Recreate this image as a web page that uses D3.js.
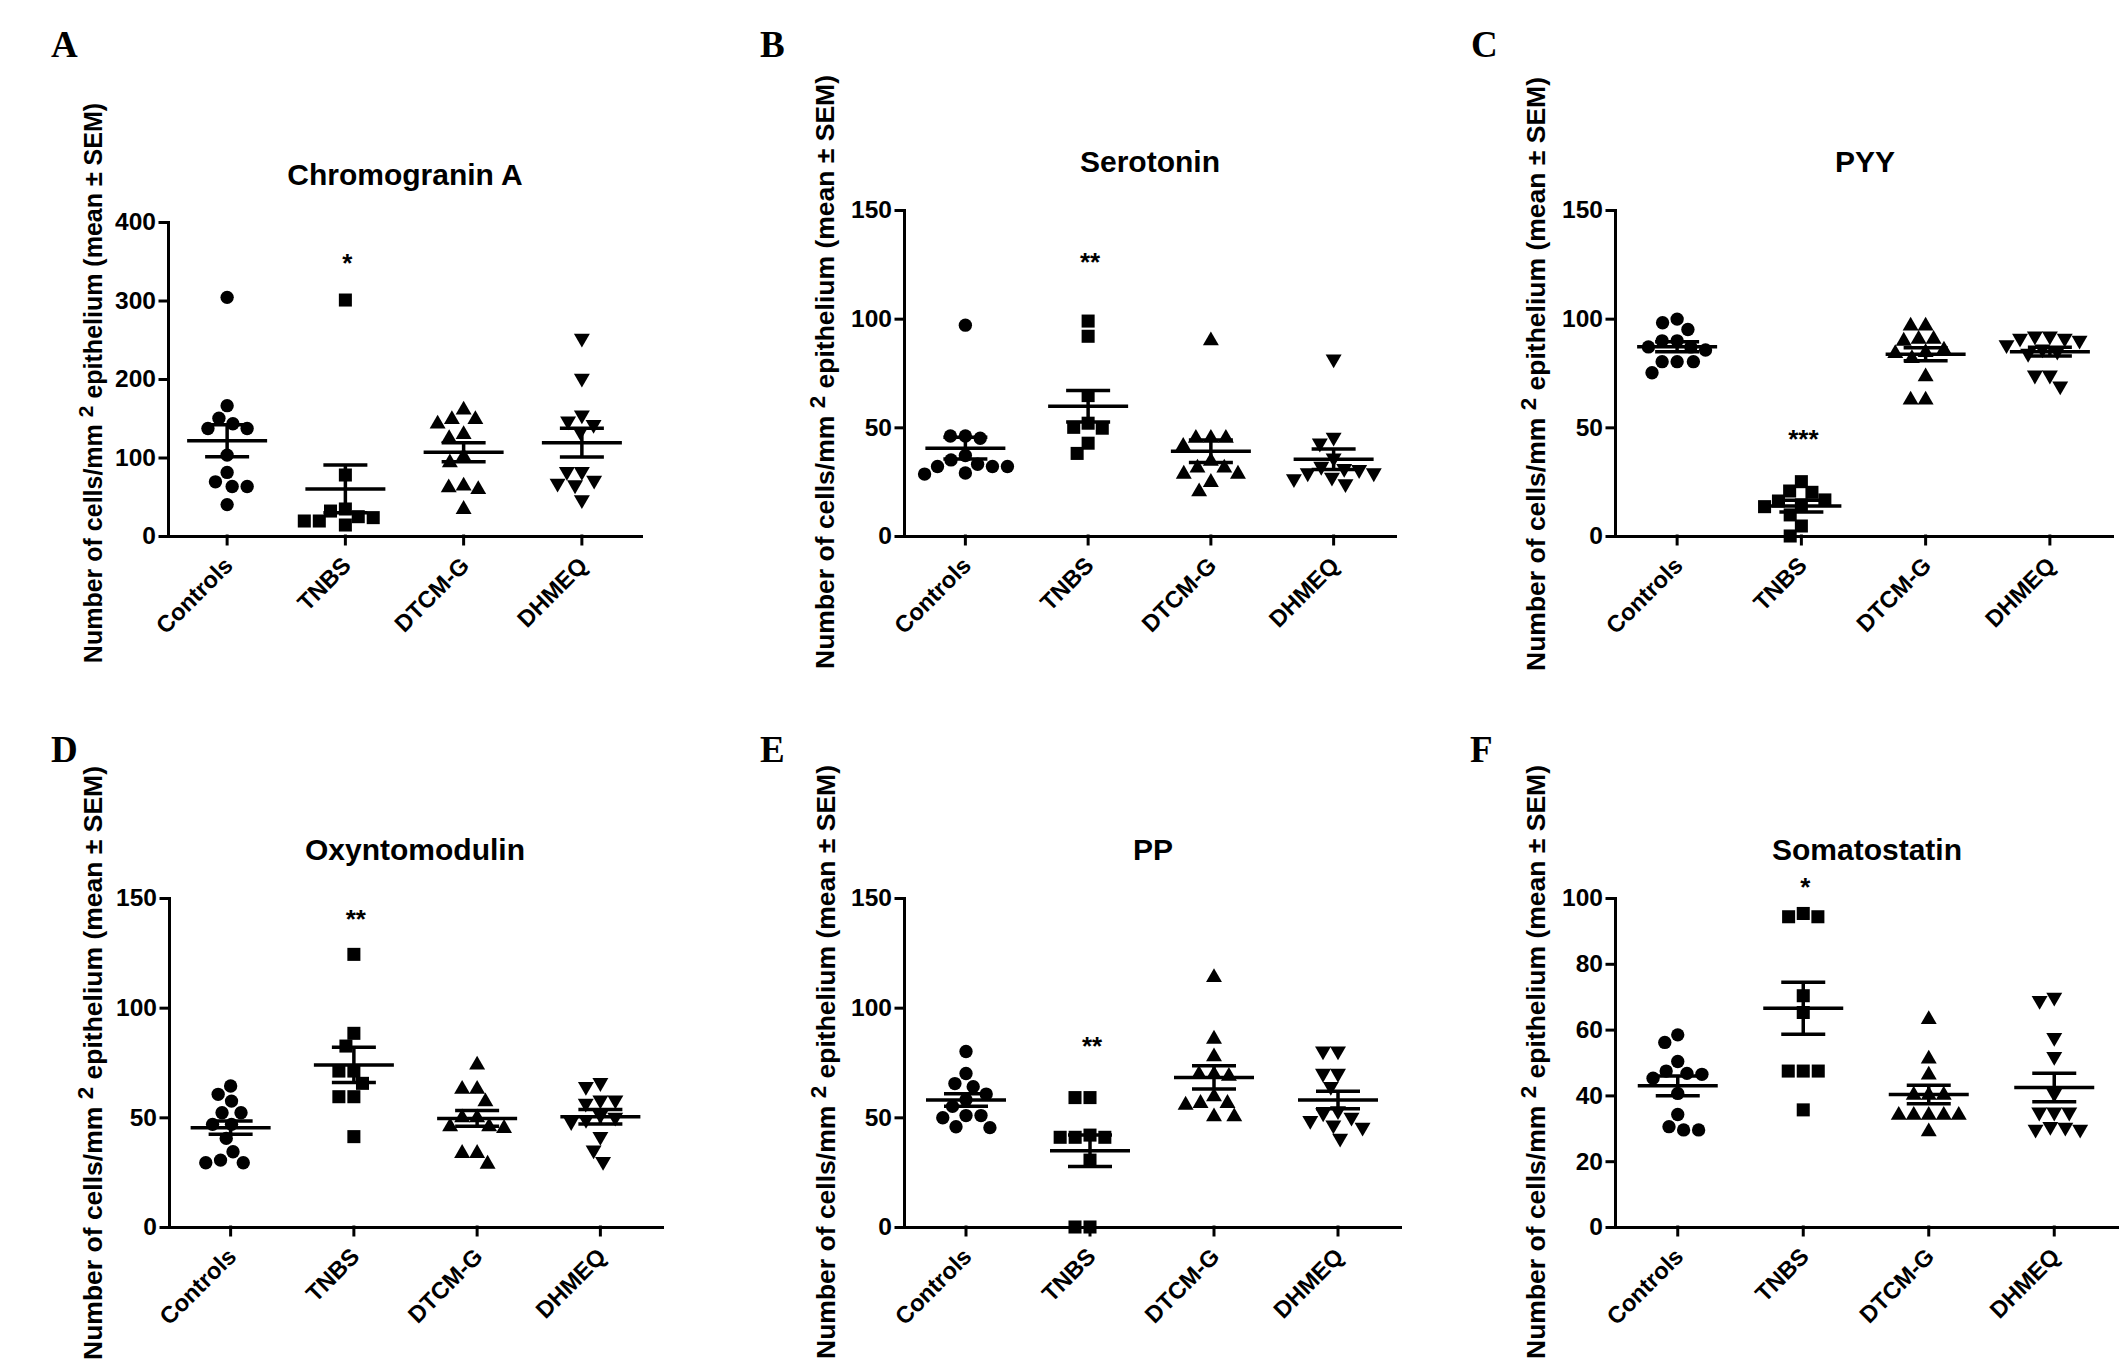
<!DOCTYPE html>
<html>
<head>
<meta charset="utf-8">
<script src="https://cdn.jsdelivr.net/npm/d3@7"></script>
<style>
  body { margin: 0; background: #fff; }
  svg { display: block; font-family: "Liberation Sans", Arial, sans-serif; }
</style>
</head>
<body>
<svg id="fig" width="2126" height="1368"></svg>
<script>
const groups = ["Controls", "TNBS", "DTCM-G", "DHMEQ"];

// cells/mm2 per animal, one inner array per group
const chromograninA = [
  [304, 166, 150, 143, 137, 137, 103, 81, 69, 63, 63, 40],
  [300.6, 77.7, 34.4, 31.8, 24.6, 23.4, 19.1, 19.1, 14],
  [160.5, 148.6, 148.6, 142.7, 129.5, 124.4, 101, 93.4, 63.7, 61.6, 59.4, 34],
  [251.8, 200.8, 154, 146.5, 142, 133, 82, 82, 71, 67, 65, 46]
];
const chromograninAMean = [121.4, 60, 106.6, 118.9];
const chromograninASem = [20.4, 30.4, 12.1, 18.3];

const serotonin = [
  [97, 46, 46, 45, 37, 35, 33, 32, 32, 32, 29, 28.5],
  [98.9, 91.9, 64.6, 51.9, 50, 49.6, 42.7, 38],
  [89.9, 45, 45, 45, 41.3, 34.4, 31.3, 31.3, 28.5, 28.5, 24.7, 20.4],
  [81.4, 45.4, 42.7, 35.9, 32, 31, 30.5, 29, 29, 27, 26.3, 24]
];
const serotoninMean = [40.4, 59.7, 39, 35.3];
const serotoninSem = [5, 7.2, 5.2, 4.7];

const pyy = [
  [99.8, 98.1, 95, 89.8, 89.8, 87, 87, 85.6, 80.2, 80.2, 80.2, 75.1],
  [25, 20.7, 20.1, 16.6, 16.1, 14.3, 13.5, 9.7, 4.6, 0],
  [96.7, 96.7, 90.6, 90.6, 89.7, 85.6, 84.5, 84, 81.7, 73.3, 62.6, 62.6],
  [92, 92, 91, 91, 90, 88, 86, 85, 84, 74, 74, 69]
];
const pyyMean = [87.1, 13.8, 83.6, 84.8];
const pyySem = [2.3, 2.7, 3, 2];

const oxyntomodulin = [
  [64.3, 60.5, 57.4, 52.1, 52.1, 46.8, 46.8, 40.4, 34.3, 30.5, 29.3, 29.3],
  [124.3, 88.3, 82.5, 71.1, 71.1, 65.5, 59.4, 59.4, 41.2],
  [73.9, 62.8, 62.8, 57.1, 49.8, 49.8, 45.7, 45.7, 45, 33.6, 33.6, 28.7],
  [65.8, 64, 57.9, 57.9, 56.4, 51, 50, 49, 48, 41.2, 35.1, 29.8]
];
const oxyntomodulinMean = [45.3, 73.9, 49.5, 50.3];
const oxyntomodulinSem = [3, 8, 3.6, 3.3];

const pp = [
  [80, 70, 65.4, 64, 60.6, 58, 55, 50.8, 50.8, 49.8, 45.7, 45.3],
  [59, 59, 41.9, 40.9, 40.9, 40.9, 30.5, 0, 0],
  [113.8, 85.7, 77.7, 69.6, 69.6, 68.8, 59.4, 56.4, 56.4, 55.6, 50.3, 50.3],
  [80.2, 80.2, 70, 70, 64, 53, 52, 50, 48.5, 46.5, 45.4, 40.4]
];
const ppMean = [57.9, 34.8, 68.2, 57.9];
const ppSem = [2.9, 7.2, 5.3, 4];

const somatostatin = [
  [58.4, 56.1, 50.3, 47.4, 46.7, 46.4, 45.2, 40.6, 34.2, 30.5, 29.5, 29.5],
  [95.3, 94.3, 94.3, 70.3, 65.2, 47.4, 47.4, 47.4, 35.6],
  [63.1, 51.1, 46.2, 40.1, 40.1, 40.1, 34, 34, 34, 34, 34, 29],
  [69.8, 68.8, 57.6, 51.8, 40.6, 34.9, 34.9, 34.9, 30.5, 30.3, 29.7, 29.7]
];
const somatostatinMean = [42.9, 66.5, 40.3, 42.4];
const somatostatinSem = [3, 7.9, 2.8, 4.3];

// y ticks per panel and the significance marks over TNBS
const ticks150 = [0, 50, 100, 150];
const chromograninATicks = [0, 100, 200, 300, 400];
const somatostatinTicks = [0, 20, 40, 60, 80, 100];
const starText = ["*", "**", "***", "**", "**", "*"];
const starLevel = [355, 129, 47.4, 143, 85.3, 105.3];

const panels = [
  {letter: "A", title: "Chromogranin A", vals: chromograninA, mean: chromograninAMean, sem: chromograninASem,
   ticks: chromograninATicks, x0: 168, x1: 641, y0: 536, y1: 222, tx: 405, ty: 174, lx: 51, ly: 57, ax: 93, ay: 383, af: 25},
  {letter: "B", title: "Serotonin", vals: serotonin, mean: serotoninMean, sem: serotoninSem,
   ticks: ticks150, x0: 904, x1: 1395, y0: 536, y1: 210, tx: 1150, ty: 161, lx: 760, ly: 57, ax: 825, ay: 372, af: 26.5},
  {letter: "C", title: "PYY", vals: pyy, mean: pyyMean, sem: pyySem,
   ticks: ticks150, x0: 1615, x1: 2112, y0: 536, y1: 210, tx: 1865, ty: 161, lx: 1471, ly: 57, ax: 1536, ay: 374, af: 26.5},
  {letter: "D", title: "Oxyntomodulin", vals: oxyntomodulin, mean: oxyntomodulinMean, sem: oxyntomodulinSem,
   ticks: ticks150, x0: 169, x1: 662, y0: 1227, y1: 898, tx: 415, ty: 849, lx: 51, ly: 762, ax: 93, ay: 1063, af: 26.5},
  {letter: "E", title: "PP", vals: pp, mean: ppMean, sem: ppSem,
   ticks: ticks150, x0: 904, x1: 1400, y0: 1227, y1: 898, tx: 1153, ty: 849, lx: 760, ly: 762, ax: 826, ay: 1062, af: 26.5},
  {letter: "F", title: "Somatostatin", vals: somatostatin, mean: somatostatinMean, sem: somatostatinSem,
   ticks: somatostatinTicks, x0: 1615, x1: 2117, y0: 1227, y1: 898, tx: 1867, ty: 849, lx: 1470, ly: 762, ax: 1536, ay: 1062, af: 26.5}
];

const symbols = [
  d3.symbol().type(d3.symbolCircle).size(140)(),
  d3.symbol().type(d3.symbolSquare).size(170)(),
  d3.symbol().type(d3.symbolTriangle).size(110)(),
  d3.symbol().type(d3.symbolTriangle).size(110)()
];

// simple greedy beeswarm: offset each point sideways until it stops overlapping
function swarm(vals, y, d) {
  const order = d3.range(vals.length).sort((a, b) => vals[b] - vals[a]);
  const placed = [], xs = [];
  for (const i of order) {
    const py = y(vals[i]);
    const cands = [0];
    placed.forEach(p => {
      const dy = Math.abs(p.y - py);
      if (dy < d) {
        const w = Math.sqrt(d * d - dy * dy);
        cands.push(p.x - w, p.x + w);
      }
    });
    cands.sort((a, b) => Math.abs(a) - Math.abs(b) || a - b);
    let x = 0;
    for (const c of cands) {
      if (placed.every(p => (p.x - c) ** 2 + (p.y - py) ** 2 >= d * d - 0.01)) { x = c; break; }
    }
    placed.push({x: x, y: py});
    xs[i] = x;
  }
  return xs;
}

const svg = d3.select("#fig");
svg.append("rect").attr("width", 2126).attr("height", 1368).attr("fill", "#fff");

panels.forEach((p, pi) => {
  const g = svg.append("g");

  const x = d3.scaleBand().domain(groups).range([p.x0, p.x1]);
  const y = d3.scaleLinear().domain([0, d3.max(p.ticks)]).range([p.y0, p.y1]);

  // axes
  const yAxis = g.append("g")
    .attr("transform", `translate(${p.x0},0)`)
    .call(d3.axisLeft(y).tickValues(p.ticks).tickSize(8).tickSizeOuter(0).tickPadding(4));
  const xAxis = g.append("g")
    .attr("transform", `translate(0,${p.y0})`)
    .call(d3.axisBottom(x).tickSize(8).tickSizeOuter(0));

  [yAxis, xAxis].forEach(ax => {
    ax.selectAll("path, line").attr("stroke", "#000").attr("stroke-width", 3).attr("stroke-linecap", "square");
    ax.selectAll("text").attr("fill", "#000").attr("font-weight", "bold")
      .attr("font-family", "Liberation Sans, Arial, sans-serif");
  });
  yAxis.selectAll("text").attr("font-size", 24.5);
  xAxis.selectAll(".tick text")
    .attr("font-size", 23.5)
    .attr("text-anchor", "end")
    .attr("x", 0).attr("y", 0).attr("dy", 0)
    .attr("transform", "translate(7,31) rotate(-45)");

  // points
  p.vals.forEach((vals, gi) => {
    const cx = x(groups[gi]) + x.bandwidth() / 2;
    const offs = swarm(vals, y, 15);
    g.append("g").selectAll("path")
      .data(vals)
      .join("path")
      .attr("d", symbols[gi])
      .attr("fill", "#000")
      .attr("transform", (d, i) => `translate(${cx + offs[i]},${y(d)})` + (gi === 3 ? " rotate(180)" : ""));

    // mean and SEM
    const m = p.mean[gi], s = p.sem[gi];
    const bars = g.append("g").attr("stroke", "#000").attr("stroke-width", 3.5);
    bars.append("line").attr("x1", cx - 40).attr("x2", cx + 40).attr("y1", y(m)).attr("y2", y(m));
    bars.append("line").attr("x1", cx).attr("x2", cx).attr("y1", y(m - s)).attr("y2", y(m + s));
    [m - s, m + s].forEach(v => {
      bars.append("line").attr("x1", cx - 22).attr("x2", cx + 22).attr("y1", y(v)).attr("y2", y(v));
    });
  });

  // significance mark over TNBS
  g.append("text")
    .attr("x", x("TNBS") + x.bandwidth() / 2 + 2)
    .attr("y", y(starLevel[pi]) + 15)
    .attr("text-anchor", "middle")
    .attr("font-size", 26).attr("font-weight", "bold")
    .text(starText[pi]);

  // title
  g.append("text")
    .attr("x", p.tx).attr("y", p.ty + 11)
    .attr("text-anchor", "middle")
    .attr("font-size", 30).attr("font-weight", "bold")
    .text(p.title);

  // panel letter
  g.append("text")
    .attr("x", p.lx).attr("y", p.ly)
    .attr("font-family", "Liberation Serif, Times New Roman, serif")
    .attr("font-size", 37).attr("font-weight", "bold")
    .text(p.letter);

  // y label
  const lab = g.append("text")
    .attr("transform", `translate(${p.ax},${p.ay}) rotate(-90)`)
    .attr("text-anchor", "middle")
    .attr("dy", "0.35em")
    .attr("font-size", p.af).attr("font-weight", "bold");
  lab.append("tspan").text("Number of cells/mm ");
  lab.append("tspan").attr("dy", -9).attr("font-size", p.af - 4).text("2");
  lab.append("tspan").attr("dy", 9).text(" epithelium (mean \u00B1 SEM)");
});
</script>
</body>
</html>
